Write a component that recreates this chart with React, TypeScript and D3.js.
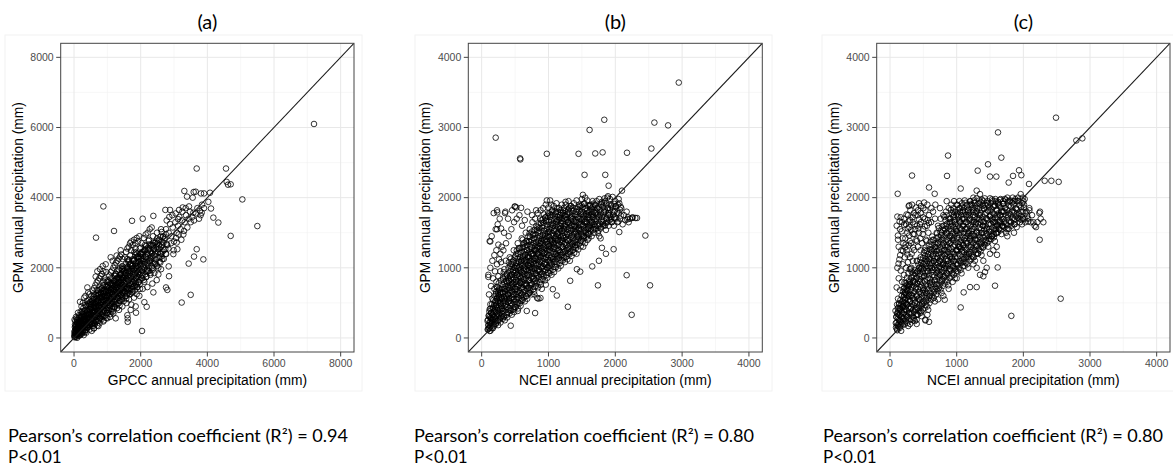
import * as d3 from "d3";

type Pt = [number, number];

const PANEL_TITLES = ["(a)", "(b)", "(c)"];
const X_TITLES = ["GPCC annual precipitation (mm)", "NCEI annual precipitation (mm)", "NCEI annual precipitation (mm)"];
const Y_TITLE = "GPM annual precipitation (mm)";
const R_VALUES = ["0.94", "0.80", "0.80"];
const P_TEXT = "P<0.01";

const TICKS_A = [0, 2000, 4000, 6000, 8000];
const MINOR_A = [1000, 3000, 5000, 7000];
const TICKS_BC = [0, 1000, 2000, 3000, 4000];
const MINOR_BC = [500, 1500, 2500, 3500];

// (a) GPCC annual precipitation (x) vs GPM (y), mm
const coreA: Pt[] = [
  [20,60],[40,110],[60,30],[80,150],[30,200],[100,90],[120,180],[50,260],[150,120],[90,300],[140,250],[170,200],[60,380],[110,420],[180,330],[200,150],[35,140],[75,240],[130,60],[160,400],[190,270],[25,310],[55,180],[95,210],[115,340],[145,460],[175,520],[200,380],[10,90],[70,90],[85,450],[125,280],[155,170],[185,610],[45,330],[105,520],[135,380],[165,300],[195,470],[15,20],[65,140],[150,650],[120,720],[80,560],[200,750],[40,480],[180,90],[100,250],[60,600],[140,560],
  [210,250],[230,420],[250,330],[270,520],[290,400],[310,610],[330,300],[350,480],[370,700],[390,560],[410,380],[430,650],[450,500],[470,820],[490,610],[220,560],[240,700],[260,180],[280,850],[300,460],[320,760],[340,540],[360,900],[380,420],[400,680],[420,980],[440,560],[460,730],[480,450],[500,880],[215,360],[235,610],[255,480],[275,290],[295,680],[315,520],[335,940],[355,640],[375,330],[395,800],[415,560],[435,1080],[455,690],[475,580],[495,1020],[225,900],[265,1000],[305,1150],[345,1200],[385,1050],[425,1300],[465,1250],[245,130],[285,220],[325,170],[365,240],[405,300],[445,330],[485,380],
  [510,700],[530,540],[550,880],[570,1100],[590,760],[610,620],[630,980],[650,1240],[670,820],[690,700],[710,1040],[730,1360],[750,900],[770,760],[790,1150],[810,1000],[830,1420],[850,880],[870,1260],[890,1080],[910,1500],[930,960],[950,1330],[970,1140],[990,1600],[520,1200],[560,1350],[600,1420],[640,1500],[680,1580],[720,1640],[760,1700],[800,1760],[840,1820],[880,1900],[920,1700],[960,1880],[540,380],[580,460],[620,420],[660,520],[700,480],[740,600],[780,560],[820,640],[860,700],[900,620],[940,760],[980,800],[515,830],[555,650],[595,1000],[635,760],[675,1120],[715,880],[755,1250],[795,940],[835,1180],[875,1020],[915,1280],[955,1060],[995,1380],[525,960],[565,760],[605,1240],[645,900],[685,1360],[725,1000],[765,1460],[805,1300],[845,1080],[885,1600],[925,1180],[965,1460],[545,1060],[585,1180],[625,600],[665,1040],[705,1280],[745,780],[785,1380],[825,1200],[865,1500],[905,1340],[945,1640],[985,1200],[700,1900],[650,1750],[860,2050],[780,1960],[950,2100],[600,280],[730,340],[880,470],[1000,560],
  [1010,1000],[1030,1220],[1050,1420],[1070,1100],[1090,1560],[1110,1300],[1130,1050],[1150,1700],[1170,1400],[1190,1180],[1210,1620],[1230,1300],[1250,1820],[1270,1500],[1290,1250],[1310,1720],[1330,1450],[1350,1950],[1370,1600],[1390,1380],[1410,1820],[1430,1520],[1450,2050],[1470,1700],[1490,1450],[1020,1640],[1060,1780],[1100,1880],[1140,1920],[1180,2000],[1220,2080],[1260,2150],[1300,2200],[1340,2260],[1380,2320],[1420,2380],[1460,2250],[1040,800],[1080,900],[1120,760],[1160,980],[1200,880],[1240,1060],[1280,960],[1320,1140],[1360,1060],[1400,1220],[1440,1120],[1480,1280],[1015,1350],[1055,1150],[1095,1380],[1135,1520],[1175,1250],[1215,1460],[1255,1640],[1295,1420],[1335,1600],[1375,1800],[1415,1650],[1455,1850],[1495,1600],[1025,1500],[1065,1300],[1105,1700],[1145,1260],[1185,1560],[1225,1780],[1265,1380],[1305,1920],[1345,1700],[1385,2000],[1425,1750],[1465,1960],[1045,1050],[1125,1150],[1205,1350],[1285,1560],[1365,1300],[1445,1400],[1080,600],[1180,700],[1250,560],[1350,800],[1450,900],[1160,2200],[1280,2350],[1400,2500],[1100,2300],
  [1510,1800],[1530,1550],[1550,2100],[1570,1700],[1590,1450],[1610,1950],[1630,2200],[1650,1650],[1670,1900],[1690,2350],[1710,1750],[1730,2050],[1750,1550],[1770,2250],[1790,1950],[1810,2450],[1830,1800],[1850,2150],[1870,1700],[1890,2400],[1910,2050],[1930,1850],[1950,2300],[1970,2550],[1990,2100],[1520,2300],[1560,2450],[1600,2550],[1640,2600],[1680,2700],[1720,2750],[1760,2650],[1800,2800],[1840,2700],[1880,2850],[1920,2750],[1960,2900],[1540,1300],[1580,1200],[1620,1380],[1660,1250],[1700,1420],[1740,1300],[1780,1480],[1820,1350],[1860,1520],[1900,1450],[1940,1600],[1980,1400],[1515,2000],[1555,1850],[1595,2250],[1635,1750],[1675,2100],[1715,2500],[1755,1900],[1795,2200],[1835,2550],[1875,2000],[1915,2300],[1955,1950],[1995,2400],[1575,1000],[1650,1100],[1720,950],[1800,1150],[1880,1250],[1960,1200],[1600,650],[1700,800],[1850,900],
  [2010,2200],[2040,1900],[2070,2450],[2100,2100],[2130,2650],[2160,2300],[2190,1950],[2220,2500],[2250,2800],[2280,2200],[2310,2650],[2340,2400],[2370,2900],[2400,2550],[2430,2150],[2460,2750],[2490,3000],[2520,2450],[2550,2800],[2580,2300],[2610,3100],[2640,2650],[2670,2900],[2700,2500],[2030,2700],[2090,2850],[2150,2950],[2210,3000],[2270,3100],[2330,3150],[2050,1700],[2110,1600],[2170,1750],[2230,1900],[2290,1800],[2350,2000],[2410,1850],[2470,2100],[2530,2000],[2590,2150],[2650,2250],[2020,2400],[2080,2250],[2140,2500],[2200,2150],[2260,2550],[2320,2300],[2380,2650],[2440,2400],[2500,2700],[2560,2550],[2620,2400],[2680,2700],[2060,1400],[2200,1450],[2350,1550],[2480,1650],
  [2720,2850],[2760,3100],[2800,2650],[2840,3000],[2880,3250],[2920,2900],[2960,3150],[3000,2750],[3040,3300],[3080,3000],[3120,3200],[3160,3450],[3200,3100],[3240,3350],[3280,2950],[3320,3300],[3360,3500],[3400,3150],[3440,3400],[3480,3600],[2750,2400],[2830,2550],[2910,2700],[2990,2500],[3060,2850],[3140,2950],[3220,2800],[3300,3050],[2780,3350],[2860,3450],[2950,3500],[3050,3550],[3150,3650],[3250,3600],[3350,3700],[3450,3750],[3500,3300],[3550,3450],[3600,3350],[3650,3550],[3700,3700],[3750,3400],[3800,3500],[3900,3700],
];
const denseA: Pt[] = [
  [92,5],[24,38],[166,70],[56,104],[138,140],[10,172],[184,208],[48,240],[114,276],[72,310],[156,345],[30,378],[128,414],[88,448],[194,482],[16,520],
  [292,82],[224,118],[366,152],[256,188],[338,222],[210,258],[384,292],[248,328],[314,362],[272,398],[356,432],[230,468],[328,502],[288,538],[394,572],[216,608],[346,642],[264,678],[376,712],[240,748],[304,782],
  [532,202],[464,238],[596,272],[428,306],[578,342],[450,376],[524,412],[488,446],[556,482],[410,516],[544,552],[472,586],[588,622],[436,656],[512,692],[566,726],[404,762],[548,796],[480,832],[592,866],[440,902],[520,936],[456,972],[584,1006],[496,1040],
  [692,352],[624,386],[766,420],[656,456],[738,490],[610,526],[784,560],[648,596],[714,630],[672,666],[756,700],[630,736],[728,770],[688,806],[794,840],[616,876],[746,910],[664,946],[776,980],[640,1016],[704,1050],[732,1086],[606,1120],[760,1156],[680,1190],[720,1226],
  [892,502],[824,536],[966,572],[856,606],[938,642],[810,676],[984,712],[848,746],[914,782],[872,816],[956,852],[830,886],[928,922],[888,956],[994,992],[816,1026],[946,1062],[864,1096],[976,1132],[840,1166],[904,1202],[932,1236],[806,1272],[960,1306],[880,1342],[920,1376],[836,1412],[988,1446],
  [1092,682],[1024,716],[1166,752],[1056,786],[1138,822],[1010,856],[1184,892],[1048,926],[1114,962],[1072,996],[1156,1032],[1030,1066],[1128,1102],[1088,1136],[1194,1172],[1016,1206],[1146,1242],[1064,1276],[1176,1312],[1040,1346],[1104,1382],[1132,1416],[1006,1452],[1160,1486],[1080,1522],[1120,1556],[1036,1592],[1188,1626],
  [1292,852],[1224,886],[1366,922],[1256,956],[1338,992],[1210,1026],[1384,1062],[1248,1096],[1314,1132],[1272,1166],[1356,1202],[1230,1236],[1328,1272],[1288,1306],[1394,1342],[1216,1376],[1346,1412],[1264,1446],[1376,1482],[1240,1516],[1304,1552],[1332,1586],[1206,1622],[1360,1656],[1280,1692],[1320,1726],[1236,1762],[1388,1796],[1258,1832],
  [1492,1052],[1424,1086],[1566,1122],[1456,1156],[1538,1192],[1410,1226],[1584,1262],[1448,1296],[1514,1332],[1472,1366],[1556,1402],[1430,1436],[1528,1472],[1488,1506],[1594,1542],[1416,1576],[1546,1612],[1464,1646],[1576,1682],[1440,1716],[1504,1752],[1532,1786],[1406,1822],[1560,1856],[1480,1892],[1520,1926],[1436,1962],[1588,1996],[1458,2032],
  [1692,1252],[1624,1286],[1766,1322],[1656,1356],[1738,1392],[1610,1426],[1784,1462],[1648,1496],[1714,1532],[1672,1566],[1756,1602],[1630,1636],[1728,1672],[1688,1706],[1794,1742],[1616,1776],[1746,1812],[1664,1846],[1776,1882],[1640,1916],[1704,1952],[1732,1986],[1606,2022],[1760,2056],[1680,2092],[1720,2126],[1636,2162],[1788,2196],[1658,2232],
  [1892,1452],[1824,1486],[1966,1522],[1856,1556],[1938,1592],[1810,1626],[1984,1662],[1848,1696],[1914,1732],[1872,1766],[1956,1802],[1830,1836],[1928,1872],[1888,1906],[1994,1942],[1816,1976],[1946,2012],[1864,2046],[1976,2082],[1840,2116],[1904,2152],[1932,2186],[1806,2222],[1960,2256],[1880,2292],[1920,2326],[1836,2362],[1988,2396],[1858,2432],
  [2092,1652],[2024,1694],[2166,1736],[2056,1778],[2138,1820],[2010,1862],[2184,1904],[2048,1946],[2114,1988],[2072,2030],[2156,2072],[2030,2114],[2128,2156],[2088,2198],[2194,2240],[2016,2282],[2146,2324],[2064,2366],[2176,2408],[2040,2450],[2104,2492],[2132,2534],[2006,2576],[2160,2618],
  [2292,1852],[2224,1900],[2366,1948],[2256,1996],[2338,2044],[2210,2092],[2384,2140],[2248,2188],[2314,2236],[2272,2284],[2356,2332],[2230,2380],[2328,2428],[2288,2476],[2394,2524],[2216,2572],[2346,2620],[2264,2668],[2376,2716],[2240,2764],
  [2492,2052],[2424,2112],[2566,2172],[2456,2232],[2538,2292],[2410,2352],[2584,2412],[2448,2472],[2514,2532],[2472,2592],[2556,2652],[2430,2712],[2528,2772],[2488,2832],[2594,2892],
  [2692,2252],[2624,2322],[2766,2392],[2656,2462],[2738,2532],[2610,2602],[2784,2672],[2648,2742],[2714,2812],[2672,2882],[2756,2952],[2630,3022],
];
const outliersA: Pt[] = [
  [7200,6100],[3680,4830],[4560,4830],[4580,4450],[4620,4370],[4700,4380],[3310,4190],[3390,4030],[3590,4160],[3810,4120],[4080,4140],[5050,3950],[5500,3190],[4700,2910],[3880,2240],[3680,2530],[3600,2320],[3440,2120],[3500,1230],[3230,1010],[2040,200],[880,3750],[660,2860],[1200,3050],[1740,3340],[2060,3400],[2380,3480],[2740,3650],[2880,3650],[4330,3290],[4180,3430],[4110,3690],[4030,3880],[3840,3800],[3780,3620],[3830,3570],[3580,3570],[3560,4000],[3650,4170],[3900,4120],[3120,3390],[3260,3720],[3080,2720],[3100,2530],[2980,2390],[2840,2040],[2850,1760],[2760,1440],[2800,1370],[1610,560],[1610,460],[1860,720],[2110,1020],[2180,890],[2380,1300],[2530,1810],[2610,1960],[180,1030],[400,1440],
];

// (b) NCEI annual precipitation (x) vs GPM (y), mm
const coreB: Pt[] = [
  [90,120],[100,180],[110,140],[120,230],[130,170],[140,280],[150,210],[160,330],[170,250],[180,380],[190,300],[200,420],[210,260],[220,470],[230,350],[240,520],[250,300],[260,580],[270,400],[280,640],[290,460],[300,700],[95,260],[105,320],[115,380],[125,300],[135,420],[145,360],[155,480],[165,420],[175,540],[185,470],[195,600],[205,520],[215,660],[225,560],[235,720],[245,620],[255,780],[265,680],[275,500],[285,820],[295,560],[120,100],[150,140],[180,190],[210,200],[240,240],[270,280],[300,320],[130,480],[160,560],[190,700],[220,800],[250,880],[280,950],[110,620],[140,740],[170,850],[200,950],[230,1050],[260,1120],[290,1080],[100,900],[130,1000],[160,1100],[190,1180],[220,1250],[250,1330],[280,1200],[120,1380],[150,1450],[210,1550],[240,1620],[270,1700],[180,1780],[230,1820],[290,1560],[300,1300],
  [310,380],[330,520],[350,700],[370,440],[390,620],[410,820],[430,500],[450,720],[470,940],[490,560],[510,800],[530,1020],[550,620],[570,880],[590,1100],[610,700],[630,960],[650,1180],[670,760],[690,1040],[320,860],[340,980],[360,1100],[380,800],[400,1000],[420,1150],[440,900],[460,1080],[480,1250],[500,1000],[520,1200],[540,1350],[560,1080],[580,1280],[600,1420],[620,1150],[640,1350],[660,1500],[680,1250],[700,1450],[315,650],[345,560],[375,900],[405,680],[435,1050],[465,780],[495,1150],[525,900],[555,1280],[585,960],[615,1300],[645,1050],[675,1380],[695,1150],[325,1250],[365,1350],[405,1450],[445,1550],[485,1650],[525,1700],[565,1750],[605,1600],[645,1680],[685,1800],[335,1500],[395,1700],[455,1820],[355,1800],[500,1870],[520,1860],[330,300],[380,350],[430,400],[480,420],[540,500],[600,560],[660,600],[720,650],[410,560],[460,620],[520,700],[580,780],[640,820],[700,900],
  [710,1100],[730,1300],[750,980],[770,1200],[790,1420],[810,1050],[830,1280],[850,1520],[870,1150],[890,1380],[910,1600],[930,1200],[950,1450],[970,1680],[990,1300],[1010,1520],[1030,1750],[1050,1380],[1070,1600],[1090,1800],[1110,1450],[1130,1680],[1150,1250],[1170,1550],[1190,1780],[720,1550],[760,1650],[800,1700],[840,1780],[880,1820],[920,1850],[960,1900],[1000,1860],[1040,1900],[1080,1880],[1120,1920],[1160,1850],[1200,1900],[740,760],[780,850],[820,900],[860,960],[900,1000],[940,1050],[980,1000],[1020,1080],[1060,1120],[1100,1150],[1140,1180],[1180,1220],[715,1380],[745,1200],[775,1480],[805,1250],[835,1580],[865,1350],[895,1680],[925,1400],[955,1720],[985,1500],[1015,1260],[1045,1620],[1075,1350],[1105,1700],[1135,1500],[1165,1720],[1195,1400],[725,1000],[785,1100],[845,1200],[905,1280],[965,1150],[1025,1400],[1085,1300],[1145,1400],[1185,1600],[755,1750],[815,1820],[875,1700],[935,1760],[995,1780],[1055,1820],[1115,1800],[1175,1700],[790,620],[850,560],[900,700],[960,760],
  [1210,1300],[1230,1550],[1250,1750],[1270,1400],[1290,1650],[1310,1850],[1330,1500],[1350,1720],[1370,1300],[1390,1600],[1410,1800],[1430,1450],[1450,1700],[1470,1880],[1490,1550],[1510,1750],[1530,1450],[1550,1650],[1570,1850],[1590,1550],[1610,1750],[1630,1900],[1650,1650],[1670,1800],[1690,1550],[1220,1820],[1260,1900],[1300,1950],[1340,1880],[1380,1920],[1420,1960],[1460,1900],[1500,1980],[1540,1920],[1580,1960],[1620,1880],[1660,1950],[1700,1900],[1240,1150],[1280,1250],[1320,1220],[1360,1350],[1400,1320],[1440,1400],[1480,1380],[1520,1450],[1560,1500],[1600,1480],[1640,1560],[1680,1620],[1215,1450],[1255,1600],[1295,1380],[1335,1700],[1375,1480],[1415,1650],[1455,1540],[1495,1800],[1535,1700],[1575,1650],[1615,1600],[1655,1720],[1695,1780],[1225,1700],[1285,1800],[1345,1600],[1405,1550],[1465,1620],[1525,1600],[1585,1750],[1645,1800],[1320,1100],[1420,1200],[1520,1300],[1600,1420],[1550,2000],
  [1710,1700],[1730,1850],[1750,1600],[1770,1750],[1790,1900],[1810,1650],[1830,1800],[1850,1950],[1870,1700],[1890,1850],[1910,1750],[1930,1900],[1950,1650],[1970,1800],[1990,1720],[2010,1880],[2030,1650],[2050,1780],[2070,1700],[2090,1850],[2110,1620],[2130,1750],[2150,1680],[2170,1800],[2190,1720],[1720,1950],[1760,1980],[1800,1940],[1840,1990],[1880,2000],[1920,1980],[1960,2010],[2000,1950],[2040,1900],[1740,1500],[1780,1560],[1820,1600],[1860,1640],[1900,1600],[1940,1700],[1980,1600],[1760,1450],[1860,1540],[2220,1700],[2260,1720],[2300,1710],[2200,1650],[2060,1920],[1780,1420],
];
const denseB: Pt[] = [
  [132,104],[97,126],[168,139],[115,151],[183,167],[104,185],[149,198],[126,214],[191,229],[88,243],[158,262],[137,278],[176,295],[109,313],[164,331],[142,356],[187,384],[121,412],[171,437],
  [247,183],[213,206],[282,221],[236,244],[268,262],[204,281],[291,298],[224,317],[257,334],[279,356],[209,372],[243,391],[296,413],[228,428],[264,447],[218,469],[285,488],[251,503],[206,524],[272,546],[233,567],[294,585],[259,603],[215,628],[278,651],[241,673],[266,702],[229,731],
  [346,252],[318,274],[383,293],[335,311],[371,327],[304,346],[392,368],[327,384],[359,402],[311,423],[386,441],[342,457],[368,478],[323,496],[397,513],[351,531],[308,552],[377,569],[334,587],[362,608],[389,624],[316,643],[348,662],[373,681],[329,703],[394,719],[357,738],[313,757],[381,776],[339,794],[366,815],[321,836],[398,858],[352,881],[376,912],[331,937],
  [452,332],[417,351],[486,369],[433,387],[471,404],[408,423],[494,441],[426,458],[463,476],[441,495],[489,512],[412,531],[476,548],[437,567],[458,586],[402,604],[483,621],[421,642],[467,660],[446,678],[497,697],[415,716],[472,733],[431,752],[456,771],[488,790],[409,809],[464,828],[438,846],[479,866],[424,884],[455,905],[491,923],[418,943],[468,962],[443,984],[486,1003],[427,1027],[461,1052],[407,1078],[474,1104],[439,1131],
  [548,421],[512,440],[583,458],[531,476],[569,495],[506,513],[594,530],[522,549],[557,567],[539,585],[586,603],[514,622],[571,640],[528,659],[555,677],[503,696],[592,714],[536,733],[564,750],[519,770],[579,788],[545,806],[508,825],[588,843],[533,862],[566,880],[524,899],[551,918],[597,936],[511,955],[575,973],[541,992],[562,1011],[527,1030],[585,1049],[516,1068],[553,1088],[598,1107],[535,1128],[572,1150],[509,1172],[546,1196],[581,1221],[526,1248],[563,1276],
  [647,522],[613,541],[682,559],[628,577],[669,596],[605,614],[694,633],[621,651],[658,669],[639,688],[686,706],[612,725],[671,743],[629,762],[655,780],[603,799],[691,817],[636,836],[663,854],[618,873],[679,891],[645,910],[608,928],[688,947],[633,965],[666,984],[624,1002],[651,1021],[697,1039],[611,1058],[675,1076],[641,1095],[662,1114],[627,1133],[685,1152],[616,1171],[653,1191],[698,1211],[634,1232],[672,1254],[609,1276],[646,1299],[681,1323],[626,1349],[664,1376],[617,1402],
  [748,621],[713,640],[784,658],[729,676],[771,695],[706,713],[793,731],[722,750],[759,768],[738,786],[787,805],[714,823],[773,842],[731,860],[757,878],[703,897],[791,915],[736,934],[764,952],[719,971],[779,989],[746,1008],[709,1026],[788,1045],[733,1063],[766,1082],[724,1100],[752,1119],[797,1137],[711,1156],[776,1174],[742,1193],[763,1212],[727,1231],[785,1250],[716,1269],[753,1289],[799,1309],[734,1330],[772,1351],[708,1372],[745,1394],[781,1417],[726,1441],[762,1466],[717,1492],[754,1518],[790,1540],
  [846,722],[812,740],[884,758],[828,777],[869,795],[805,813],[893,832],[821,850],[858,868],[837,887],[886,905],[814,923],[872,942],[830,960],[856,978],[803,997],[891,1015],[835,1034],[863,1052],[818,1071],[878,1089],[845,1108],[808,1126],[887,1145],[832,1163],[865,1182],[823,1200],[851,1219],[896,1237],[810,1256],[875,1274],[841,1293],[862,1312],[826,1331],[884,1350],[815,1369],[852,1389],[898,1409],[833,1430],[871,1451],[807,1472],[844,1494],[880,1517],[825,1541],[861,1566],[816,1592],[853,1618],[889,1640],
  [947,821],[913,839],[983,858],[928,876],[968,894],[906,913],[992,931],[921,949],[957,968],[936,986],[985,1004],[915,1023],[971,1041],[931,1059],[955,1078],[904,1096],[990,1114],[934,1133],[962,1151],[918,1170],[977,1188],[944,1207],[908,1225],[986,1244],[932,1262],[964,1281],[924,1299],[950,1318],[995,1336],[911,1355],[974,1373],[940,1392],[961,1411],[927,1430],[983,1449],[916,1468],[951,1488],[997,1508],[933,1529],[970,1550],[907,1571],[943,1593],[979,1616],[926,1640],[960,1665],[917,1690],[952,1716],[988,1740],
  [1046,901],[1012,920],[1083,938],[1028,957],[1068,975],[1005,994],[1092,1012],[1021,1031],[1057,1049],[1036,1068],[1085,1086],[1014,1105],[1071,1123],[1031,1142],[1055,1160],[1003,1179],[1090,1197],[1034,1216],[1062,1234],[1018,1253],[1077,1271],[1044,1290],[1008,1308],[1086,1327],[1032,1345],[1064,1364],[1024,1382],[1050,1401],[1095,1419],[1011,1438],[1074,1456],[1040,1475],[1061,1494],[1027,1513],[1083,1532],[1016,1551],[1051,1571],[1097,1591],[1033,1612],[1070,1633],[1007,1654],[1043,1676],[1079,1699],[1026,1723],[1060,1748],[1017,1774],[1052,1800],
  [1147,991],[1113,1010],[1184,1029],[1129,1048],[1169,1067],[1106,1086],[1193,1105],[1122,1124],[1158,1143],[1137,1162],[1186,1181],[1115,1200],[1172,1219],[1132,1238],[1156,1257],[1104,1276],[1191,1295],[1135,1314],[1163,1333],[1119,1352],[1178,1371],[1145,1390],[1109,1409],[1187,1428],[1133,1447],[1165,1466],[1125,1485],[1151,1504],[1196,1523],[1112,1542],[1175,1561],[1141,1580],[1162,1600],[1128,1620],[1184,1640],[1117,1661],[1152,1682],[1198,1704],[1134,1727],[1171,1750],[1108,1774],[1144,1798],[1180,1823],[1127,1846],
  [1246,1081],[1212,1101],[1283,1121],[1228,1141],[1268,1161],[1205,1181],[1292,1201],[1221,1221],[1257,1241],[1236,1261],[1285,1281],[1214,1301],[1271,1321],[1231,1341],[1255,1361],[1203,1381],[1290,1401],[1234,1421],[1262,1441],[1218,1461],[1277,1481],[1244,1501],[1208,1521],[1286,1541],[1232,1561],[1264,1581],[1224,1601],[1250,1621],[1295,1641],[1211,1661],[1274,1681],[1240,1701],[1261,1722],[1227,1743],[1283,1764],[1216,1786],[1251,1808],[1297,1831],[1233,1855],
  [1347,1171],[1313,1192],[1384,1213],[1329,1234],[1369,1255],[1306,1276],[1393,1297],[1322,1318],[1358,1339],[1337,1360],[1386,1381],[1315,1402],[1372,1423],[1332,1444],[1356,1465],[1304,1486],[1391,1507],[1335,1528],[1363,1549],[1319,1570],[1378,1591],[1345,1612],[1309,1633],[1387,1654],[1333,1675],[1365,1697],[1325,1719],[1351,1741],[1396,1763],[1312,1786],[1375,1809],[1341,1832],[1362,1856],[1328,1880],
  [1446,1261],[1412,1283],[1483,1305],[1428,1327],[1468,1349],[1405,1371],[1492,1393],[1421,1415],[1457,1437],[1436,1459],[1485,1481],[1414,1503],[1471,1525],[1431,1547],[1455,1569],[1403,1591],[1490,1613],[1434,1635],[1462,1657],[1418,1679],[1477,1701],[1444,1724],[1408,1747],[1486,1770],[1432,1793],[1464,1817],[1424,1841],[1450,1866],[1495,1891],
  [1547,1351],[1513,1374],[1584,1397],[1529,1420],[1569,1443],[1506,1466],[1593,1489],[1522,1512],[1558,1535],[1537,1558],[1586,1581],[1515,1604],[1572,1627],[1532,1650],[1556,1673],[1504,1696],[1591,1719],[1535,1742],[1563,1766],[1519,1790],[1578,1814],[1545,1838],[1509,1862],[1587,1887],[1533,1912],
  [1646,1451],[1612,1474],[1683,1497],[1628,1520],[1668,1543],[1605,1566],[1692,1589],[1621,1612],[1657,1635],[1636,1658],[1685,1681],[1614,1704],[1671,1727],[1631,1750],[1655,1773],[1603,1796],[1690,1819],[1634,1843],[1662,1867],[1618,1891],[1677,1915],
  [1747,1531],[1713,1555],[1784,1579],[1729,1603],[1769,1627],[1706,1651],[1793,1675],[1722,1699],[1758,1723],[1737,1747],[1786,1771],[1715,1795],[1772,1819],[1732,1843],[1756,1867],[1704,1891],[1791,1915],
  [1846,1601],[1812,1626],[1883,1651],[1828,1676],[1868,1701],[1805,1726],[1892,1751],[1821,1776],[1857,1801],[1836,1826],[1885,1851],[1814,1876],[1871,1901],[1831,1926],
  [1946,1651],[1912,1677],[1983,1703],[1928,1729],[1968,1755],[1905,1781],[1992,1807],[1921,1833],[1957,1859],[1936,1885],[1985,1911],
  [2046,1660],[2012,1702],[2083,1744],[2028,1786],[2068,1828],[2005,1870],
];
const outliersB: Pt[] = [
  [2950,3640],[1835,3110],[1615,2965],[2585,3070],[2790,3030],[210,2855],[575,2560],[580,2545],[975,2625],[1450,2625],[1700,2630],[1810,2645],[2175,2640],[2540,2700],[1540,2325],[1850,2325],[1900,2170],[2100,2100],[2450,1460],[1975,1265],[1800,1285],[1860,1200],[1655,1020],[1755,1100],[2170,895],[2520,750],[2245,330],[1740,750],[1290,445],[1325,815],[1065,695],[1125,605],[1425,980],[1475,945],[800,355],[675,385],[540,385],[435,175],[830,570],[880,570],[130,1375],[100,870],[230,1550],[235,1790],[350,1780],[495,1875],[590,1855],[975,1960],[1025,1960],[1255,1940],[1515,2040],[1890,2020],[2050,1980],[2080,1870],[2325,1710],[2250,1710],[2180,1690],[2060,1510],
];

// (c) NCEI annual precipitation (x) vs GPM (y), mm
const coreC: Pt[] = [
  [90,150],[100,220],[110,180],[120,280],[130,200],[140,330],[150,250],[160,390],[170,300],[180,440],[190,350],[200,500],[210,400],[220,560],[230,450],[240,620],[250,480],[260,680],[270,540],[280,740],[290,600],[300,800],[95,300],[105,350],[115,420],[125,380],[135,480],[145,420],[155,540],[165,480],[175,600],[185,520],[195,660],[205,580],[215,720],[225,640],[235,780],[245,700],[255,860],[265,760],[275,920],[285,820],[295,980],[110,110],[140,160],[170,200],[200,240],[230,270],[260,300],[290,350],[120,560],[150,680],[180,800],[210,900],[240,1000],[270,1080],[300,1150],[100,720],[130,850],[160,960],[190,1050],[220,1150],[250,1250],[280,1320],[110,1000],[140,1120],[170,1250],[200,1350],[230,1420],[260,1500],[290,1580],[120,1400],[150,1550],[180,1650],[210,1700],[240,1620],[270,1750],[100,1600],[130,1300],[300,1680],[160,1720],
  [310,420],[330,600],[350,800],[370,500],[390,720],[410,950],[430,560],[450,800],[470,1000],[490,640],[510,880],[530,1050],[550,700],[570,950],[590,1120],[610,760],[630,1000],[650,1200],[670,820],[690,1080],[320,1000],[340,1100],[360,1250],[380,920],[400,1100],[420,1300],[440,1000],[460,1150],[480,1350],[500,1050],[520,1250],[540,1400],[560,1150],[580,1320],[600,1000],[620,1250],[640,1400],[660,1100],[680,1300],[700,1500],[315,1350],[345,1480],[375,1550],[405,1600],[435,1500],[465,1650],[495,1550],[525,1700],[555,1600],[585,1750],[615,1650],[645,1800],[675,1700],[340,1650],[380,1750],[420,1820],[460,1780],[500,1850],[560,1900],[620,1850],[680,1900],[330,350],[380,400],[430,420],[480,480],[540,520],[600,600],[660,650],[350,250],[410,330],[470,380],[400,200],[560,330],[530,250],[700,700],[325,1200],[455,1420],[575,1500],[395,1400],
  [710,1000],[730,1250],[750,900],[770,1150],[790,1400],[810,1000],[830,1250],[850,1500],[870,1100],[890,1350],[910,1600],[930,1150],[950,1400],[970,1650],[990,1250],[1010,1500],[1030,1750],[1050,1300],[1070,1550],[1090,1800],[1110,1400],[1130,1650],[1150,1200],[1170,1500],[1190,1750],[720,1600],[760,1700],[800,1750],[840,1800],[880,1850],[920,1900],[960,1950],[1000,1900],[1040,1950],[1080,1920],[1120,1960],[1160,1900],[1200,1950],[740,750],[780,820],[820,880],[860,920],[900,980],[940,1020],[980,980],[1020,1050],[1060,1100],[1100,1080],[1140,1150],[1180,1200],[715,1350],[745,1100],[775,1500],[805,1200],[835,1600],[865,1300],[895,1700],[925,1450],[955,1750],[985,1550],[1015,1250],[1045,1650],[1075,1350],[1105,1700],[1135,1550],[1165,1800],[1195,1450],[725,950],[785,1050],[845,1050],[905,1200],[965,1100],[1025,1300],[1085,1250],[1145,1350],[750,1850],[850,1950],[950,1800],[1050,1850],[880,700],[940,800],[1000,850],[800,600],[720,550],
  [1210,1300],[1230,1550],[1250,1800],[1270,1400],[1290,1650],[1310,1850],[1330,1500],[1350,1750],[1370,1300],[1390,1600],[1410,1850],[1430,1450],[1450,1700],[1470,1900],[1490,1550],[1510,1750],[1530,1450],[1550,1650],[1570,1880],[1590,1550],[1610,1750],[1630,1900],[1650,1650],[1670,1800],[1690,1600],[1220,1900],[1260,1960],[1300,1990],[1340,1920],[1380,1970],[1420,1990],[1460,1950],[1500,1990],[1540,1950],[1580,1980],[1620,1920],[1660,1980],[1700,1950],[1240,1150],[1280,1250],[1320,1200],[1360,1350],[1400,1300],[1440,1400],[1480,1380],[1520,1450],[1560,1480],[1600,1500],[1640,1550],[1680,1600],[1215,1450],[1255,1650],[1295,1400],[1335,1700],[1375,1500],[1415,1650],[1455,1550],[1495,1820],[1535,1700],[1575,1650],[1615,1600],[1655,1750],[1695,1800],[1250,1050],[1300,1000],[1350,900],[1400,1100],[1450,1000],[1500,1200],[1550,1250],[1600,1300],[1300,2100],[1350,2050],[1250,2000],
  [1710,1650],[1730,1850],[1750,1550],[1770,1750],[1790,1950],[1810,1650],[1830,1800],[1850,1950],[1870,1700],[1890,1850],[1910,1750],[1930,1950],[1950,1650],[1970,1800],[1990,1700],[2010,1900],[2030,1650],[2050,1800],[2070,1700],[2090,1850],[2110,1650],[2130,1750],[2150,1650],[2170,1600],[2190,1580],[1720,1980],[1760,2000],[1800,1960],[1840,2000],[1880,1980],[1920,2000],[1960,2050],[2000,1950],[1740,1500],[1780,1560],[1820,1600],[1860,1620],[1900,1580],[1940,1700],[1980,1620],[1760,1450],[1860,1500],[2210,1650],[2240,1780],[2260,1700],[2300,1650],[1990,2000],[2020,1980],
];
const denseC: Pt[] = [
  [167,102],[103,124],[150,146],[121,168],[189,190],[87,212],[160,234],[130,256],[182,278],[96,300],[142,322],[114,344],[175,366],[82,388],[156,410],[124,432],[195,454],[106,476],[138,496],
  [273,171],[219,193],[258,215],[234,237],[291,259],[206,281],[267,303],[242,325],[285,347],[213,369],[252,391],[228,413],[279,435],[201,457],[263,479],[237,501],[296,523],[222,545],[248,567],[270,589],[210,611],[287,633],[231,655],[256,677],[204,699],[275,721],[245,743],[292,765],[216,787],
  [373,241],[319,263],[358,285],[334,307],[391,329],[306,351],[367,373],[342,395],[385,417],[313,439],[352,461],[328,483],[379,505],[301,527],[363,549],[337,571],[396,593],[322,615],[348,637],[370,659],[310,681],[387,703],[331,725],[356,747],[304,769],[375,791],[345,813],[392,835],[316,857],[360,879],[339,901],[382,923],[325,945],[368,967],[308,989],
  [473,311],[419,334],[458,357],[434,380],[491,403],[406,426],[467,449],[442,472],[485,495],[413,518],[452,541],[428,564],[479,587],[401,610],[463,633],[437,656],[496,679],[422,702],[448,725],[470,748],[410,771],[487,794],[431,817],[456,840],[404,863],[475,886],[445,909],[492,932],[416,955],[460,978],[439,1001],[482,1024],[425,1047],[468,1070],[408,1093],[453,1116],[495,1139],
  [573,401],[519,425],[558,449],[534,473],[591,497],[506,521],[567,545],[542,569],[585,593],[513,617],[552,641],[528,665],[579,689],[501,713],[563,737],[537,761],[596,785],[522,809],[548,833],[570,857],[510,881],[587,905],[531,929],[556,953],[504,977],[575,1001],[545,1025],[592,1049],[516,1073],[560,1097],[539,1121],[582,1145],[525,1169],[568,1193],[508,1217],[553,1241],[595,1265],[533,1289],
  [673,521],[619,546],[658,571],[634,596],[691,621],[606,646],[667,671],[642,696],[685,721],[613,746],[652,771],[628,796],[679,821],[601,846],[663,871],[637,896],[696,921],[622,946],[648,971],[670,996],[610,1021],[687,1046],[631,1071],[656,1096],[604,1121],[675,1146],[645,1171],[692,1196],[616,1221],[660,1246],[639,1271],[682,1296],[625,1321],[668,1346],[608,1371],[653,1396],[695,1421],[633,1446],
  [773,641],[719,666],[758,691],[734,716],[791,741],[706,766],[767,791],[742,816],[785,841],[713,866],[752,891],[728,916],[779,941],[701,966],[763,991],[737,1016],[796,1041],[722,1066],[748,1091],[770,1116],[710,1141],[787,1166],[731,1191],[756,1216],[704,1241],[775,1266],[745,1291],[792,1316],[716,1341],[760,1366],[739,1391],[782,1416],[725,1441],[768,1466],[708,1491],[753,1516],[795,1541],[733,1566],[777,1591],
  [873,751],[819,776],[858,801],[834,826],[891,851],[806,876],[867,901],[842,926],[885,951],[813,976],[852,1001],[828,1026],[879,1051],[801,1076],[863,1101],[837,1126],[896,1151],[822,1176],[848,1201],[870,1226],[810,1251],[887,1276],[831,1301],[856,1326],[804,1351],[875,1376],[845,1401],[892,1426],[816,1451],[860,1476],[839,1501],[882,1526],[825,1551],[868,1576],[808,1601],[853,1626],[895,1651],[833,1676],[877,1701],[814,1726],[849,1748],
  [973,851],[919,876],[958,901],[934,926],[991,951],[906,976],[967,1001],[942,1026],[985,1051],[913,1076],[952,1101],[928,1126],[979,1151],[901,1176],[963,1201],[937,1226],[996,1251],[922,1276],[948,1301],[970,1326],[910,1351],[987,1376],[931,1401],[956,1426],[904,1451],[975,1476],[945,1501],[992,1526],[916,1551],[960,1576],[939,1601],[982,1626],[925,1651],[968,1676],[908,1701],[953,1726],[995,1751],[933,1776],[977,1801],[914,1826],[949,1848],
  [1073,921],[1019,946],[1058,971],[1034,996],[1091,1021],[1006,1046],[1067,1071],[1042,1096],[1085,1121],[1013,1146],[1052,1171],[1028,1196],[1079,1221],[1001,1246],[1063,1271],[1037,1296],[1096,1321],[1022,1346],[1048,1371],[1070,1396],[1010,1421],[1087,1446],[1031,1471],[1056,1496],[1004,1521],[1075,1546],[1045,1571],[1092,1596],[1016,1621],[1060,1646],[1039,1671],[1082,1696],[1025,1721],[1068,1746],[1008,1771],[1053,1796],[1095,1821],[1033,1846],[1077,1871],[1014,1896],
  [1173,1001],[1119,1026],[1158,1051],[1134,1076],[1191,1101],[1106,1126],[1167,1151],[1142,1176],[1185,1201],[1113,1226],[1152,1251],[1128,1276],[1179,1301],[1101,1326],[1163,1351],[1137,1376],[1196,1401],[1122,1426],[1148,1451],[1170,1476],[1110,1501],[1187,1526],[1131,1551],[1156,1576],[1104,1601],[1175,1626],[1145,1651],[1192,1676],[1116,1701],[1160,1726],[1139,1751],[1182,1776],[1125,1801],[1168,1826],[1108,1851],[1153,1876],[1195,1901],[1133,1926],
  [1273,1101],[1219,1126],[1258,1151],[1234,1176],[1291,1201],[1206,1226],[1267,1251],[1242,1276],[1285,1301],[1213,1326],[1252,1351],[1228,1376],[1279,1401],[1201,1426],[1263,1451],[1237,1476],[1296,1501],[1222,1526],[1248,1551],[1270,1576],[1210,1601],[1287,1626],[1231,1651],[1256,1676],[1204,1701],[1275,1726],[1245,1751],[1292,1776],[1216,1801],[1260,1826],[1239,1851],[1282,1876],[1225,1901],[1268,1926],[1208,1948],
  [1373,1181],[1319,1207],[1358,1233],[1334,1259],[1391,1285],[1306,1311],[1367,1337],[1342,1363],[1385,1389],[1313,1415],[1352,1441],[1328,1467],[1379,1493],[1301,1519],[1363,1545],[1337,1571],[1396,1597],[1322,1623],[1348,1649],[1370,1675],[1310,1701],[1387,1727],[1331,1753],[1356,1779],[1304,1805],[1375,1831],[1345,1857],[1392,1883],[1316,1909],[1360,1935],[1339,1958],
  [1473,1301],[1419,1328],[1458,1355],[1434,1382],[1491,1409],[1406,1436],[1467,1463],[1442,1490],[1485,1517],[1413,1544],[1452,1571],[1428,1598],[1479,1625],[1401,1652],[1463,1679],[1437,1706],[1496,1733],[1422,1760],[1448,1787],[1470,1814],[1410,1841],[1487,1868],[1431,1895],[1456,1922],[1404,1949],
  [1573,1381],[1519,1408],[1558,1435],[1534,1462],[1591,1489],[1506,1516],[1567,1543],[1542,1570],[1585,1597],[1513,1624],[1552,1651],[1528,1678],[1579,1705],[1501,1732],[1563,1759],[1537,1786],[1596,1813],[1522,1840],[1548,1867],[1570,1894],[1510,1921],[1587,1948],[1531,1975],
  [1673,1481],[1619,1508],[1658,1535],[1634,1562],[1691,1589],[1606,1616],[1667,1643],[1642,1670],[1685,1697],[1613,1724],[1652,1751],[1628,1778],[1679,1805],[1601,1832],[1663,1859],[1637,1886],[1696,1913],[1622,1940],[1648,1967],
  [1773,1551],[1719,1579],[1758,1607],[1734,1635],[1791,1663],[1706,1691],[1767,1719],[1742,1747],[1785,1775],[1713,1803],[1752,1831],[1728,1859],[1779,1887],[1701,1915],[1763,1943],[1737,1971],
  [1873,1621],[1819,1649],[1858,1677],[1834,1705],[1891,1733],[1806,1761],[1867,1789],[1842,1817],[1885,1845],[1813,1873],[1852,1901],[1828,1929],[1879,1957],
  [1973,1681],[1919,1711],[1958,1741],[1934,1771],[1991,1801],[1906,1831],[1967,1861],[1942,1891],[1985,1921],[1913,1951],
  [2073,1660],[2019,1700],[2058,1740],[2034,1780],[2091,1820],[2006,1860],
  [152,1180],[118,1460],[196,1240],[234,1330],[262,1190],[286,1460],[318,1540],[347,1290],[371,1620],[402,1380],[436,1690],[458,1250],[491,1480],[522,1590],[547,1380],[583,1640],[128,1060],[174,1520],[212,1610],[248,1760],[279,1660],[305,1820],[338,1720],[366,1480],[392,1860],[427,1560],[463,1880],[496,1720],[531,1820],[566,1680],[144,1660],[189,1420],[226,1290],[268,1560],[297,1380],[329,1900],[358,1780],[414,1750],[448,1620],[512,1930],
];
const outliersC: Pt[] = [
  [2490,3140],[2795,2815],[2885,2845],[1620,2930],[870,2600],[855,2310],[330,2315],[1670,2570],[1470,2475],[1315,2385],[1500,2300],[1595,2300],[1780,2215],[1935,2390],[1970,2320],[1845,2310],[2085,2195],[2320,2240],[2420,2240],[2530,2225],[585,2145],[670,2055],[1060,2130],[115,2055],[110,1730],[290,1890],[280,1880],[435,1920],[2245,1400],[2250,1800],[1605,1185],[1615,1005],[1575,745],[1200,725],[1300,725],[1105,650],[1060,435],[1820,315],[2560,560],[1400,880],[1425,940],[820,545],[585,230],[530,260],[300,200],[400,260],
];

const W = 1173;
const H = 467;
const TOP = 43.3;
const BOTTOM = 352;

const PANELS = [
  { pts: [...coreA, ...denseA, ...outliersA], left: 60.7, right: 354, domain: [-400, 8400], major: TICKS_A, minor: MINOR_A, frame: 5, note: 8 },
  { pts: [...coreB, ...denseB, ...outliersB], left: 468.3, right: 762.3, domain: [-200, 4200], major: TICKS_BC, minor: MINOR_BC, frame: 415, note: 414 },
  { pts: [...coreC, ...denseC, ...outliersC], left: 876.7, right: 1170, domain: [-200, 4200], major: TICKS_BC, minor: MINOR_BC, frame: 822, note: 823 },
];

const AXIS_FONT = "'Liberation Sans', Arial, sans-serif";
const TEXT_FONT = "Lato, 'Open Sans', sans-serif";

function Panel({ p, i }: { p: (typeof PANELS)[number]; i: number }) {
  const x = d3.scaleLinear().domain(p.domain).range([p.left, p.right]);
  const y = d3.scaleLinear().domain(p.domain).range([BOTTOM, TOP]);
  const cx = (p.left + p.right) / 2;
  const cy = (TOP + BOTTOM) / 2;
  const diag = d3.line<number>().x((v) => x(v)).y((v) => y(v))(p.domain) ?? "";
  const clipId = `clip-${i}`;

  return (
    <g>
      <rect x={p.frame} y={35} width={357} height={356} fill="none" stroke="#f2f2f2" />
      <text x={cx} y={29} textAnchor="middle" fontFamily={TEXT_FONT} fontSize={20} fill="#000">
        {PANEL_TITLES[i]}
      </text>
      <clipPath id={clipId}>
        <rect x={p.left} y={TOP} width={p.right - p.left} height={BOTTOM - TOP} />
      </clipPath>
      {/* grid */}
      {p.minor.map((t) => (
        <g key={`m${t}`} stroke="#f2f2f2" strokeWidth={0.6}>
          <line x1={x(t)} x2={x(t)} y1={TOP} y2={BOTTOM} />
          <line x1={p.left} x2={p.right} y1={y(t)} y2={y(t)} />
        </g>
      ))}
      {p.major.map((t) => (
        <g key={`M${t}`} stroke="#e8e8e8" strokeWidth={1}>
          <line x1={x(t)} x2={x(t)} y1={TOP} y2={BOTTOM} />
          <line x1={p.left} x2={p.right} y1={y(t)} y2={y(t)} />
        </g>
      ))}
      <g clipPath={`url(#${clipId})`}>
        {p.pts.map(([a, b], k) => (
          <circle key={k} cx={x(a)} cy={y(b)} r={2.8} fill="none" stroke="#000" strokeWidth={0.8} />
        ))}
        <path d={diag} stroke="#1a1a1a" strokeWidth={1.1} fill="none" />
      </g>
      <rect x={p.left} y={TOP} width={p.right - p.left} height={BOTTOM - TOP} fill="none" stroke="#444" strokeWidth={1} />
      {/* axes */}
      {p.major.map((t) => (
        <g key={`t${t}`} fontFamily={AXIS_FONT} fontSize={10.5} fill="#4d4d4d">
          <line x1={p.left - 4.5} x2={p.left} y1={y(t)} y2={y(t)} stroke="#444" />
          <text x={p.left - 7} y={y(t) + 3.8} textAnchor="end">{t}</text>
          <line x1={x(t)} x2={x(t)} y1={BOTTOM} y2={BOTTOM + 4.5} stroke="#444" />
          <text x={x(t)} y={BOTTOM + 14.5} textAnchor="middle">{t}</text>
        </g>
      ))}
      <text x={cx} y={384.5} textAnchor="middle" fontFamily={AXIS_FONT} fontSize={13.8} fill="#000">
        {X_TITLES[i]}
      </text>
      <text transform={`translate(${p.left - 38},${cy}) rotate(-90)`} textAnchor="middle" fontFamily={AXIS_FONT} fontSize={13.8} fill="#000">
        {Y_TITLE}
      </text>
      <text x={p.note} y={441.5} fontFamily={TEXT_FONT} fontSize={17} fill="#000" textLength={340} lengthAdjust="spacingAndGlyphs">
        {`Pearson’s correlation coefficient (R²) = ${R_VALUES[i]}`}
      </text>
      <text x={p.note} y={463} fontFamily={TEXT_FONT} fontSize={17} fill="#000">
        {P_TEXT}
      </text>
    </g>
  );
}

export default function App() {
  return (
    <svg width={W} height={H} style={{ position: "absolute", left: 0, top: 0, background: "#fff" }}>
      {PANELS.map((p, i) => (
        <Panel key={i} p={p} i={i} />
      ))}
    </svg>
  );
}
